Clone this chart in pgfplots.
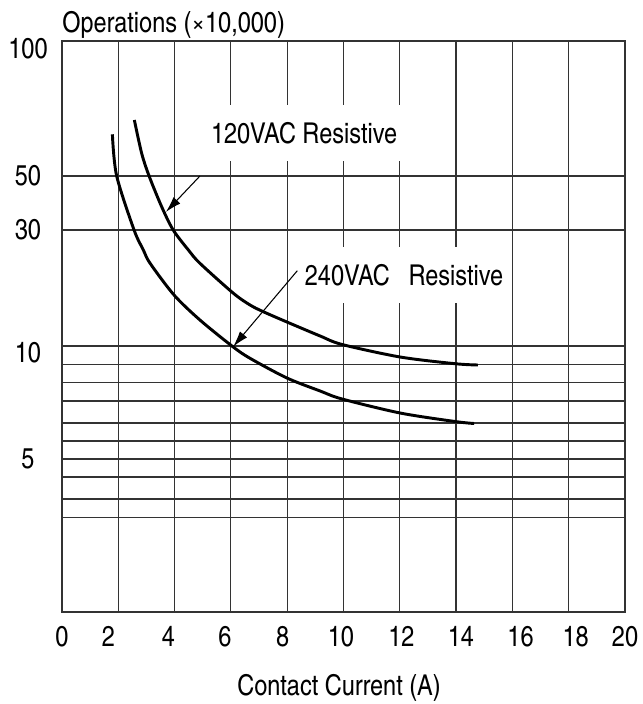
\documentclass[border=0pt]{standalone}
\usepackage{fontspec}
\setmainfont{texgyreheroscn-regular.otf}
\usepackage{pgfplots}
\pgfplotsset{compat=1.18}
\usetikzlibrary{arrows.meta}
\definecolor{gridgray}{HTML}{333333}
\newcommand{\lbl}{\fontsize{21.5}{25}\selectfont}

% y runs in drawing units (0 = bottom frame, 571 = top frame), as the printed scale is not log
\begin{document}
\begin{tikzpicture}
\begin{axis}[
  scale only axis,
  width=422.25pt, height=428.25pt,
  xmin=0, xmax=20, ymin=0, ymax=571,
  xtick={0,2,...,20}, xticklabels={},
  ytick={94.3,113,135,153,171,189,211,229.3,247.3,266,382,436,571},
  yticklabels={},
  extra x ticks={0,1.65,3.78,5.79,7.84,9.91,12.06,14.17,16.29,18.25,20},
  extra x tick labels={0,2,4,6,8,10,12,14,16,18,20},
  extra y ticks={563,436,382,259,153},
  extra y tick labels={100,50,30,10,5},
  extra tick style={grid=none},
  xmajorgrids, ymajorgrids,
  major grid style={gridgray, line width=0.9pt},
  axis line style={gridgray, line width=1pt},
  major tick length=0pt,
  tick label style={font=\lbl},
  /pgf/number format/assume math mode=true,
  xticklabel style={anchor=center, yshift=-18.5pt},
  yticklabel style={anchor=center, xshift=-25.5pt},
  clip=false,
]

\node[fill=white, inner sep=0pt, minimum width=150pt, minimum height=42pt, font=\lbl]
  at (axis cs:8.60,479) {120VAC Resistive};
\node[fill=white, inner sep=0pt, minimum width=161pt, minimum height=42pt, font=\lbl]
  at (axis cs:12.15,337) {240VAC\hspace{14pt}Resistive};

% 120VAC
\addplot[black, line width=2.2pt, smooth, tension=0.5] coordinates {
  (2.57,492) (2.83,458.7) (3.09,436.3) (3.54,405.3) (3.95,382) (4.49,362)
  (4.90,348.7) (6.09,318.7) (6.68,307) (7.15,300.3) (7.99,290) (9.17,276)
  (9.95,267.5) (12.01,255) (13.96,248.3) (14.77,247)
};
% 240VAC
\addplot[black, line width=2.2pt, smooth, tension=0.5] coordinates {
  (1.79,477.7) (1.94,436.3) (2.56,382) (2.89,362) (3.13,348.7) (3.98,317)
  (4.90,292) (6.06,265.5) (6.68,253.7) (7.99,234) (9.17,221) (9.95,213)
  (12.01,199) (13.96,190.5) (14.64,188.5)
};

\draw[-{Latex[length=12pt,width=7pt]}, line width=0.8pt]
  (axis cs:4.90,436) -- (axis cs:3.69,400);
\draw[-{Latex[length=12pt,width=7pt]}, line width=0.8pt]
  (axis cs:8.36,341.3) -- (axis cs:6.08,265.3);

\node[anchor=base west, inner sep=0pt, yshift=6pt, font=\lbl]
  at (rel axis cs:0,1) {Operations (×10,000)};
\node[anchor=center, inner sep=0pt, yshift=-57pt, font=\lbl]
  at (rel axis cs:0.492,0) {Contact Current (A)};

% page margins as in the reference
\path (rel axis cs:0,1) ++(-46.5pt,30.75pt) (rel axis cs:1,0) ++(10.5pt,-69pt);
\end{axis}
\end{tikzpicture}
\end{document}
